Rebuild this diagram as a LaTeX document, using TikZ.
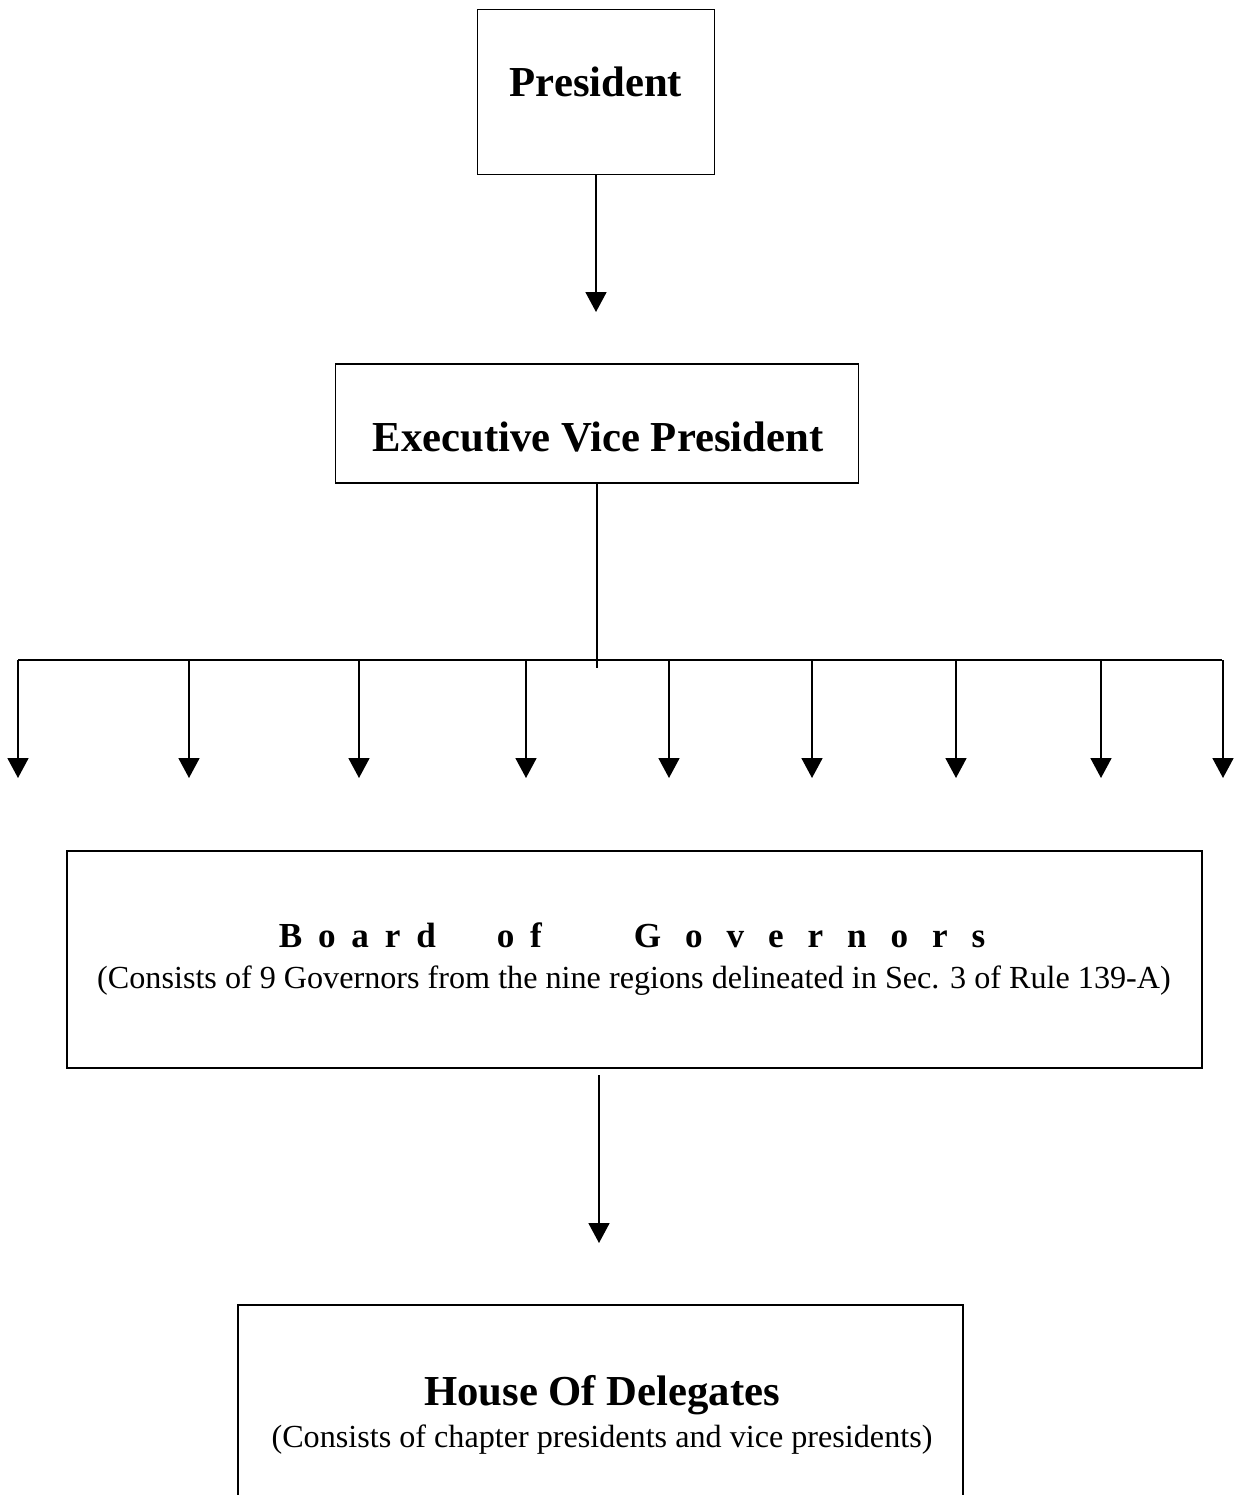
\documentclass[tikz,border=0pt]{standalone}
\usepackage{fontspec}
\setmainfont{Liberation Serif}
\newfontfamily\bogfontA[LetterSpace=45]{Liberation Serif}
\newfontfamily\bogfontB[LetterSpace=68]{Liberation Serif}
\usetikzlibrary{arrows.meta}
\begin{document}
\begin{tikzpicture}[line width=1pt,
  box/.style={draw,line width=1pt,inner sep=0pt},
  arr/.style={-{Triangle[width=0.42cm,length=0.4cm]}},
  head/.style={font=\fontsize{24.3}{28}\selectfont\bfseries},
  sub/.style={font=\fontsize{18.3}{22}\selectfont}]
\useasboundingbox (0,0) rectangle (24.9,-29.9);
\clip (0,0) rectangle (24.9,-29.9);
% top of the chart
\node[box,minimum width=4.74cm,minimum height=3.3cm] (pres) at (11.92,-1.84) {};
\node[head] (presname) at (11.92,-1.64) {President};
\coordinate (prestip) at (11.92,-6.24);
\draw[arr] (pres.south) -- (prestip);
\node[box,minimum width=10.46cm,minimum height=2.38cm] (evp) at (11.94,-8.47) {};
\node[head] (evpname) at (11.96,-8.74) {Executive Vice President};
% bus to the nine regions
\coordinate (trunk) at (11.94,-13.36);
\draw (evp.south) -- (trunk);
\coordinate (busl) at (0.36,-13.2);
\coordinate (busr) at (24.44,-13.2);
\draw (busl) -- (busr);
\foreach \x [count=\i] in {0.36,3.78,7.18,10.52,13.38,16.24,19.12,22.02,24.46} {
  \coordinate (b\i) at (\x,-13.2);
  \coordinate (t\i) at (\x,-15.56);
  \draw[arr] (b\i) -- (t\i);
}
\node[box,minimum width=22.7cm,minimum height=4.34cm] (bog) at (12.69,-19.19) {};
\node[font=\fontsize{20}{24}\selectfont\bfseries] (bogname) at (12.64,-18.7)
  {{\bogfontA Board}\hspace{1.22cm}{\bogfontA of}\hspace{1.84cm}{\bogfontB Governors}};
\node[sub] (bognote) at (12.68,-19.62) {(Consists of 9 Governors from the nine regions delineated in Sec. 3 of Rule 139-A)};
\coordinate (bogtop) at (11.98,-21.5);
\coordinate (bogtip) at (11.98,-24.86);
\draw[arr] (bogtop) -- (bogtip);
\node[box,minimum width=14.5cm,minimum height=4.9cm] (hod) at (12.01,-28.55) {};
\node[head] (hodname) at (12.04,-27.9) {House Of Delegates};
\node[sub] (hodnote) at (12.04,-28.8) {(Consists of chapter presidents and vice presidents)};
\end{tikzpicture}
\end{document}
